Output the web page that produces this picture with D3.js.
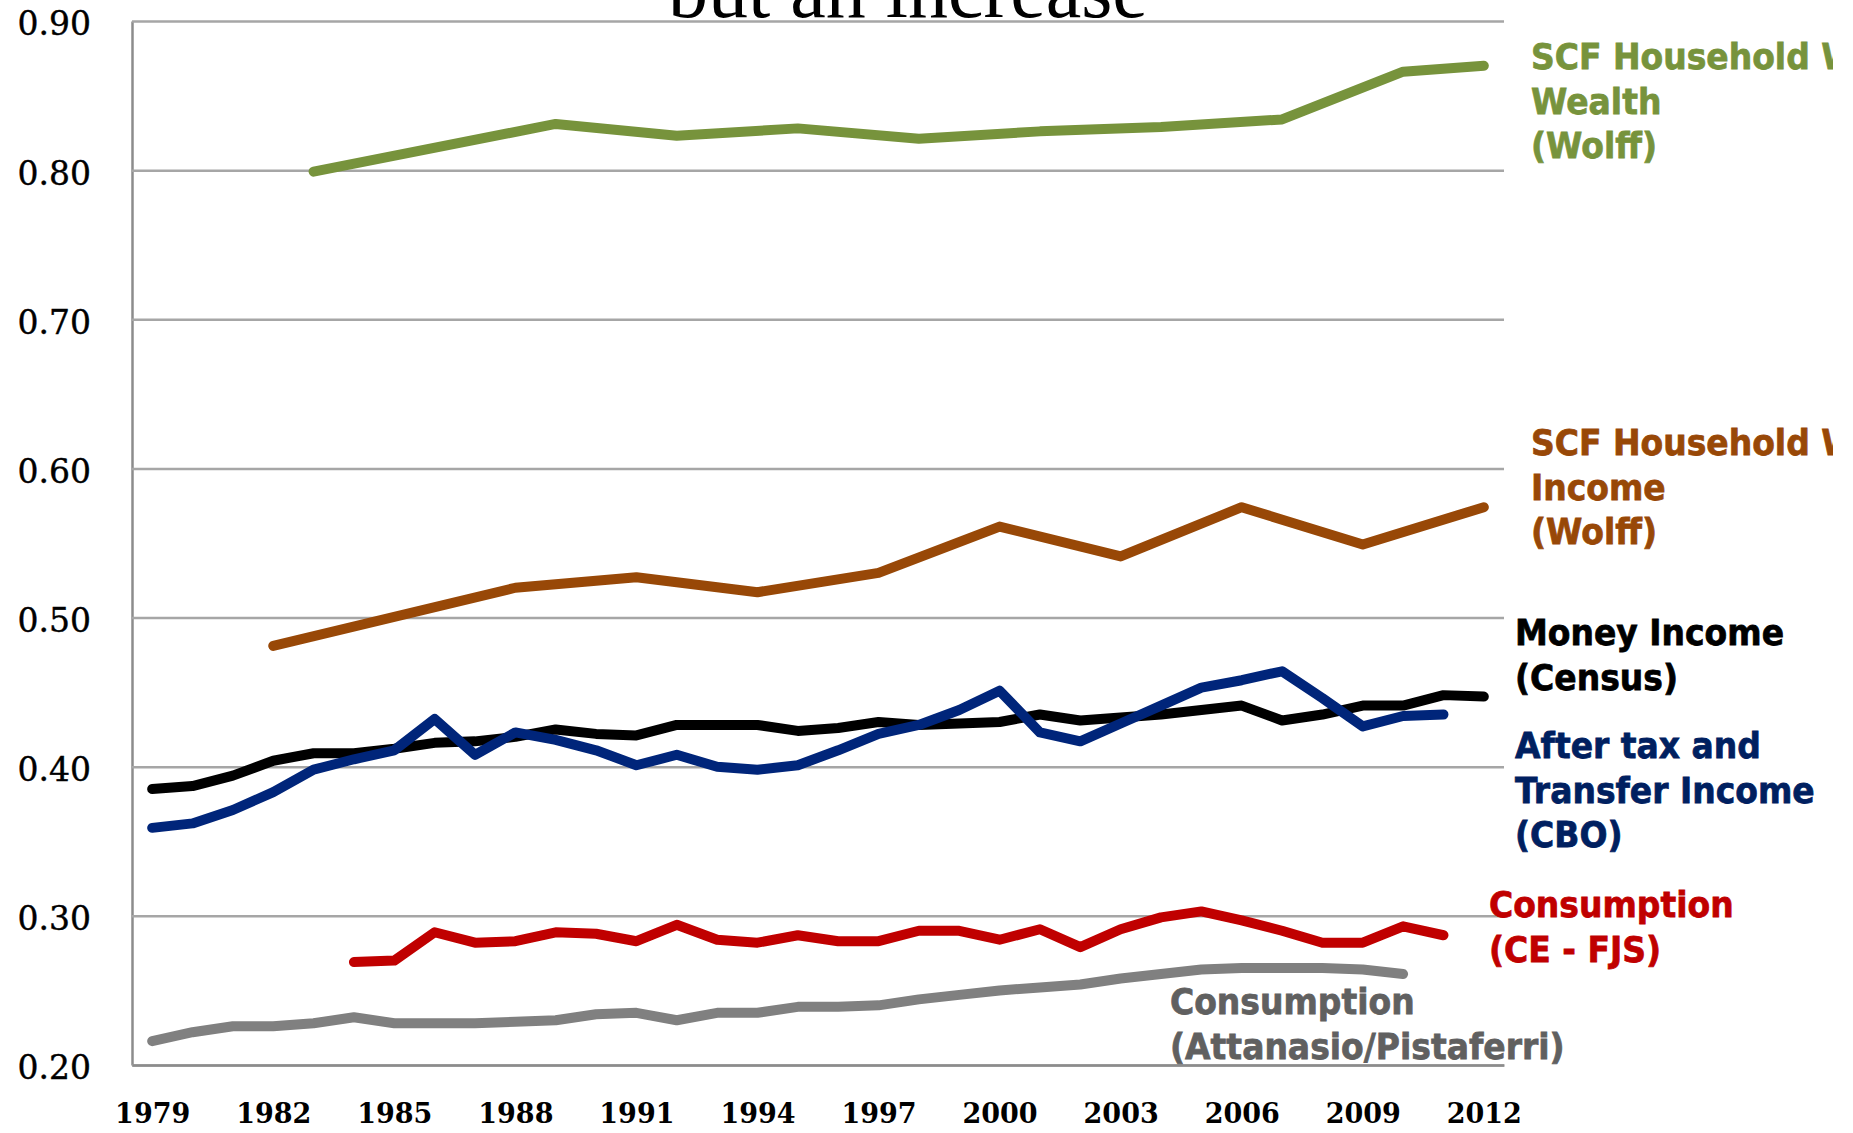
<!DOCTYPE html>
<html>
<head>
<meta charset="utf-8">
<script src="https://cdn.jsdelivr.net/npm/d3@7"></script>
<style>
  body { margin: 0; background: #fff; }
  svg { display: block; }
  .yaxis text { font-family: "DejaVu Serif", serif; font-size: 33px; fill: #000; stroke: #000; stroke-width: 0.4px; }
  .xaxis text { font-family: "DejaVu Serif", serif; font-weight: bold; font-size: 27px; fill: #000; }
  .slab { font-family: "DejaVu Sans", sans-serif; font-weight: bold; font-size: 33px; stroke-width: 0.7px; }
  .title { font-family: "Liberation Serif", serif; font-size: 80px; fill: #000; }
</style>
</head>
<body>
<script>
// categories on the x axis (one per year)
var years = [1979, 1980, 1981, 1982, 1983, 1984, 1985, 1986, 1987, 1988, 1989,
             1990, 1991, 1992, 1993, 1994, 1995, 1996, 1997, 1998, 1999, 2000,
             2001, 2002, 2003, 2004, 2005, 2006, 2007, 2008, 2009, 2010, 2011, 2012];
var xTickYears = [1979, 1982, 1985, 1988, 1991, 1994, 1997, 2000, 2003, 2006, 2009, 2012];
var yTicks = [0.20, 0.30, 0.40, 0.50, 0.60, 0.70, 0.80, 0.90];
var yTickLabels = ["0.20", "0.30", "0.40", "0.50", "0.60", "0.70", "0.80", "0.90"];

// SCF household wealth (Wolff)
var wealthYears = [1983, 1989, 1992, 1995, 1998, 2001, 2004, 2007, 2010, 2012];
var wealthGini  = [0.799, 0.831, 0.823, 0.828, 0.821, 0.826, 0.829, 0.834, 0.866, 0.870];

// SCF household income (Wolff)
var scfIncomeYears = [1982, 1988, 1991, 1994, 1997, 2000, 2003, 2006, 2009, 2012];
var scfIncomeGini  = [0.481, 0.520, 0.527, 0.517, 0.530, 0.561, 0.541, 0.574, 0.549, 0.574];

// Money income (Census), 1979-2012
var moneyIncomeGini = [0.385, 0.387, 0.394, 0.404, 0.409, 0.409, 0.412, 0.416, 0.417, 0.420,
                       0.425, 0.422, 0.421, 0.428, 0.428, 0.428, 0.424, 0.426, 0.430, 0.428,
                       0.429, 0.430, 0.435, 0.431, 0.433, 0.435, 0.438, 0.441, 0.431, 0.435,
                       0.441, 0.441, 0.448, 0.447];

// After tax and transfer income (CBO), 1979-2011
var cboGini = [0.359, 0.362, 0.371, 0.383, 0.398, 0.405, 0.411, 0.432, 0.408, 0.423,
               0.418, 0.411, 0.401, 0.408, 0.400, 0.398, 0.401, 0.411, 0.422, 0.428,
               0.438, 0.451, 0.423, 0.417, 0.429, 0.441, 0.453, 0.458, 0.464, 0.446,
               0.427, 0.434, 0.435];

// Consumption (CE - FJS), 1984-2011
var ceFjsGini = [0.269, 0.270, 0.289, 0.282, 0.283, 0.289, 0.288, 0.283, 0.294, 0.284,
                 0.282, 0.287, 0.283, 0.283, 0.290, 0.290, 0.284, 0.291, 0.279, 0.291,
                 0.299, 0.303, 0.297, 0.290, 0.282, 0.282, 0.293, 0.287];

// Consumption (Attanasio/Pistaferri), 1979-2010
var apGini = [0.216, 0.222, 0.226, 0.226, 0.228, 0.232, 0.228, 0.228, 0.228, 0.229,
              0.230, 0.234, 0.235, 0.230, 0.235, 0.235, 0.239, 0.239, 0.240, 0.244,
              0.247, 0.250, 0.252, 0.254, 0.258, 0.261, 0.264, 0.265, 0.265, 0.265,
              0.264, 0.261];

var wealthLabel    = ["SCF Household W", "Wealth", "(Wolff)"];
var scfIncomeLabel = ["SCF Household W", "Income", "(Wolff)"];
var moneyLabel     = ["Money Income", "(Census)"];
var cboLabel       = ["After tax and", "Transfer Income", "(CBO)"];
var ceFjsLabel     = ["Consumption", "(CE - FJS)"];
var apLabel        = ["Consumption", "(Attanasio/Pistaferri)"];
var titleText = "but an increase";

var svgW = 1853, svgH = 1133;
var plotLeft = 132, plotRight = 1504, plotTop = 21, plotBottom = 1065;

function zipYears(ys, vals) {
    return vals.map(function(v, i) { return {year: ys[i], value: v}; });
}

var series = [
    {data: zipYears(wealthYears, wealthGini), color: "#77933c"},
    {data: zipYears(scfIncomeYears, scfIncomeGini), color: "#984807"},
    {data: zipYears(years, moneyIncomeGini), color: "#000000"},
    {data: zipYears(years, cboGini), color: "#00257a"},
    {data: zipYears(years.slice(5), ceFjsGini), color: "#c00000"},
    {data: zipYears(years, apGini), color: "#808080"}
];

var x = d3.scalePoint().domain(years).range([plotLeft, plotRight]).padding(0.5);
var y = d3.scaleLinear().domain([0.2, 0.9]).range([plotBottom, plotTop]);

var svg = d3.select("body")
    .append("svg")
        .attr("width", svgW)
        .attr("height", svgH);

svg.append("rect").attr("width", svgW).attr("height", svgH).attr("fill", "#fff");

// title fragment cut off at the top edge
svg.append("text")
    .attr("class", "title")
    .attr("x", 908)
    .attr("y", 17)
    .attr("text-anchor", "middle")
    .text(titleText);

// y axis with gridlines
var yAxis = svg.append("g")
    .attr("class", "yaxis")
    .attr("transform", "translate(" + plotLeft + ",0)")
    .call(d3.axisLeft(y)
        .tickValues(yTicks)
        .tickSize(-(plotRight - plotLeft))
        .tickSizeOuter(0)
        .tickPadding(41)
        .tickFormat(function(d, i) { return yTickLabels[i]; }));
yAxis.select(".domain").attr("stroke", "#8c8c8c").attr("stroke-width", 2.5);
yAxis.selectAll(".tick line").attr("stroke", "#a6a6a6").attr("stroke-width", 2.5);
yAxis.selectAll(".tick text").attr("dy", "0.42em");

// x axis
var xAxis = svg.append("g")
    .attr("class", "xaxis")
    .attr("transform", "translate(0," + plotBottom + ")")
    .call(d3.axisBottom(x)
        .tickValues(xTickYears)
        .tickSize(0)
        .tickPadding(39));
xAxis.select(".domain").attr("stroke", "#8c8c8c").attr("stroke-width", 2.5);

// lines
var line = d3.line()
    .x(function(d) { return x(d.year); })
    .y(function(d) { return y(d.value); });

svg.append("g")
    .attr("class", "lines")
    .selectAll("path")
    .data(series)
    .enter()
    .append("path")
        .attr("fill", "none")
        .attr("stroke", function(d) { return d.color; })
        .attr("stroke-width", 10)
        .attr("stroke-linecap", "round")
        .attr("stroke-linejoin", "round")
        .attr("d", function(d) { return line(d.data); });

// series labels
svg.append("clipPath").attr("id", "labclip")
    .append("rect").attr("x", 0).attr("y", 0).attr("width", 1833).attr("height", svgH);

var labels = [
    {lines: wealthLabel, color: "#77933c", x: 1531, y: 69},
    {lines: scfIncomeLabel, color: "#984807", x: 1531, y: 455},
    {lines: moneyLabel, color: "#000000", x: 1515, y: 645},
    {lines: cboLabel, color: "#002060", x: 1515, y: 758},
    {lines: ceFjsLabel, color: "#c00000", x: 1489, y: 917},
    {lines: apLabel, color: "#606060", x: 1170, y: 1014}
];
var lineGap = 44.5;

var lab = svg.append("g").attr("clip-path", "url(#labclip)");
labels.forEach(function(l) {
    l.lines.forEach(function(t, i) {
        lab.append("text")
            .attr("class", "slab")
            .attr("transform", "translate(" + l.x + "," + (l.y + i * lineGap) + ") scale(1,1.1)")
            .attr("fill", l.color)
            .attr("stroke", l.color)
            .text(t);
    });
});
</script>
</body>
</html>
